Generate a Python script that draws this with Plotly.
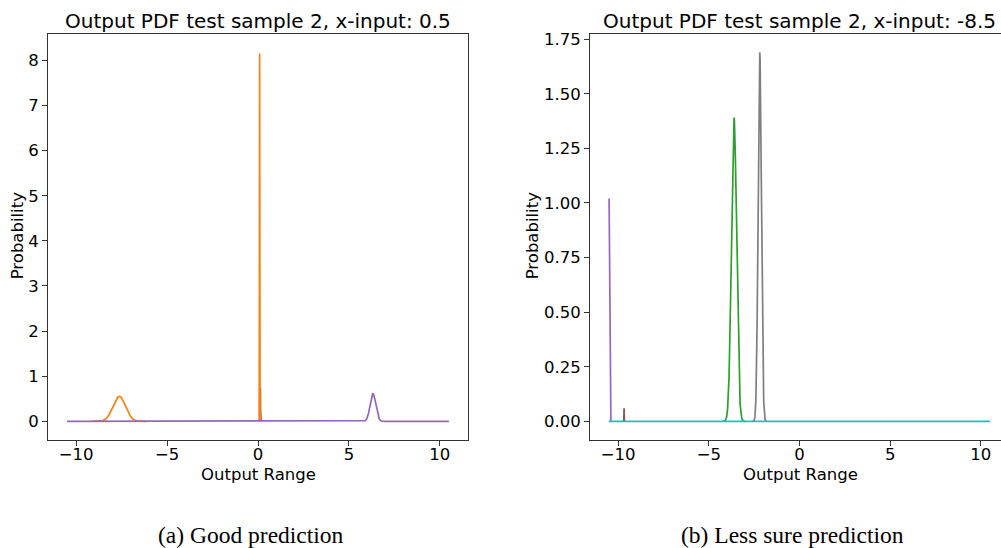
import numpy as np
import plotly.graph_objects as go

# ---------------- data ----------------
x_min, x_max = -10.5, 10.5

# Panel (a): x-input 0.5 — mixture components (drawn in this order)
a_colors = ["#ff7f0e", "#8c564b", "#ff7f0e", "#9467bd"]
a_means  = [-7.63, 0.13, 0.09, 6.32]
a_sigmas = [0.34, 0.008, 0.009, 0.155]
a_peaks  = [0.555, 0.75, 8.18, 0.615]

# Panel (b): x-input -8.5
b_colors = ["#9467bd", "#8c564b", "#2ca02c", "#7f7f7f", "#17becf"]
b_means  = [-10.5, -9.67, -3.61, -2.19, 0.0]
b_sigmas = [0.028, 0.008, 0.14, 0.09, 1.0]
b_peaks  = [1.02, 0.06, 1.39, 1.69, 0.0]

x_tickvals = [-10, -5, 0, 5, 10]
x_ticktext = ["\u221210", "\u22125", "0", "5", "10"]
a_ytickvals = [0, 1, 2, 3, 4, 5, 6, 7, 8]
b_ytickvals = [0.0, 0.25, 0.5, 0.75, 1.0, 1.25, 1.5, 1.75]

titles = ["Output PDF test sample 2, x-input: 0.5",
          "Output PDF test sample 2, x-input: -8.5"]
captions = ["(a) Good prediction", "(b) Less sure prediction"]
xlabel = "Output Range"
ylabel = "Probability"

# ---------------- figure ----------------
W, H = 1001, 548
xs = np.linspace(x_min, x_max, 8001)

def curve(mu, sig, peak, last):
    y = peak * np.exp(-0.5 * ((xs - mu) / sig) ** 2)
    if not last:
        # the flat part is hidden under the last-drawn component anyway
        keep = y > 1e-4 * max(peak, 1e-9)
        keep = keep | np.roll(keep, 1) | np.roll(keep, -1)
        y = np.where(keep, y, np.nan)
    return y

fig = go.Figure()
for i, (c, m, s, p) in enumerate(zip(a_colors, a_means, a_sigmas, a_peaks)):
    fig.add_trace(go.Scatter(x=xs, y=curve(m, s, p, i == len(a_colors) - 1),
                             mode="lines", line=dict(color=c, width=1.7),
                             xaxis="x", yaxis="y", showlegend=False,
                             hoverinfo="skip", connectgaps=False))
for i, (c, m, s, p) in enumerate(zip(b_colors, b_means, b_sigmas, b_peaks)):
    fig.add_trace(go.Scatter(x=xs, y=curve(m, s, p, i == len(b_colors) - 1),
                             mode="lines", line=dict(color=c, width=1.7),
                             xaxis="x2", yaxis="y2", showlegend=False,
                             hoverinfo="skip", connectgaps=False))

FONT = "DejaVu Sans"
TICK = 16.5
spine = "#333333"

def px_x(p):
    return p / W

def px_y(p):
    return 1 - p / H

top, bot = 30, 439
ax_common = dict(showgrid=False, zeroline=False, showline=True,
                 linecolor=spine, linewidth=1.1, ticks="outside",
                 ticklen=5, tickwidth=1.1, tickcolor=spine,
                 tickfont=dict(family=FONT, size=TICK, color="black"))

fig.update_layout(
    width=W, height=H,
    margin=dict(l=0, r=0, t=0, b=0),
    paper_bgcolor="white", plot_bgcolor="white",
    xaxis=dict(domain=[px_x(48), px_x(468)], range=[-11.55, 11.55],
               tickvals=x_tickvals, ticktext=x_ticktext, mirror=True,
               anchor="y", ticklabelstandoff=-6, **ax_common),
    yaxis=dict(domain=[px_y(bot), px_y(top)], range=[-0.409, 8.59],
               tickvals=a_ytickvals, mirror=True, anchor="x", **ax_common),
    xaxis2=dict(domain=[px_x(590), 1.0], range=[-11.55, 11.11],
                tickvals=x_tickvals, ticktext=x_ticktext, mirror=True,
                anchor="y2", ticklabelstandoff=-6, **ax_common),
    yaxis2=dict(domain=[px_y(bot), px_y(top)], range=[-0.0845, 1.7745],
                tickvals=b_ytickvals, tickformat=".2f", mirror=False,
                anchor="x2", **ax_common),
)

ann = []
# titles
for cx, t in zip([258, 799], titles):
    ann.append(dict(text=t, x=px_x(cx), y=px_y(17), xref="paper", yref="paper",
                    xanchor="center", yanchor="middle", showarrow=False,
                    font=dict(family=FONT, size=20, color="black")))
# x labels
for cx in [258, 800]:
    ann.append(dict(text=xlabel, x=px_x(cx), y=px_y(474), xref="paper", yref="paper",
                    xanchor="center", yanchor="middle", showarrow=False,
                    font=dict(family=FONT, size=16.5, color="black")))
# y labels
for cx in [17, 532]:
    ann.append(dict(text=ylabel, x=px_x(cx), y=px_y(234), xref="paper", yref="paper",
                    xanchor="center", yanchor="middle", showarrow=False,
                    textangle=-90,
                    font=dict(family=FONT, size=16.5, color="black")))
# captions
for cx, t in zip([251, 792], captions):
    ann.append(dict(text=t, x=px_x(cx), y=px_y(535), xref="paper", yref="paper",
                    xanchor="center", yanchor="middle", showarrow=False,
                    font=dict(family="Liberation Serif", size=23.5, color="black")))
fig.update_layout(annotations=ann)

fig.write_html("out.html")
